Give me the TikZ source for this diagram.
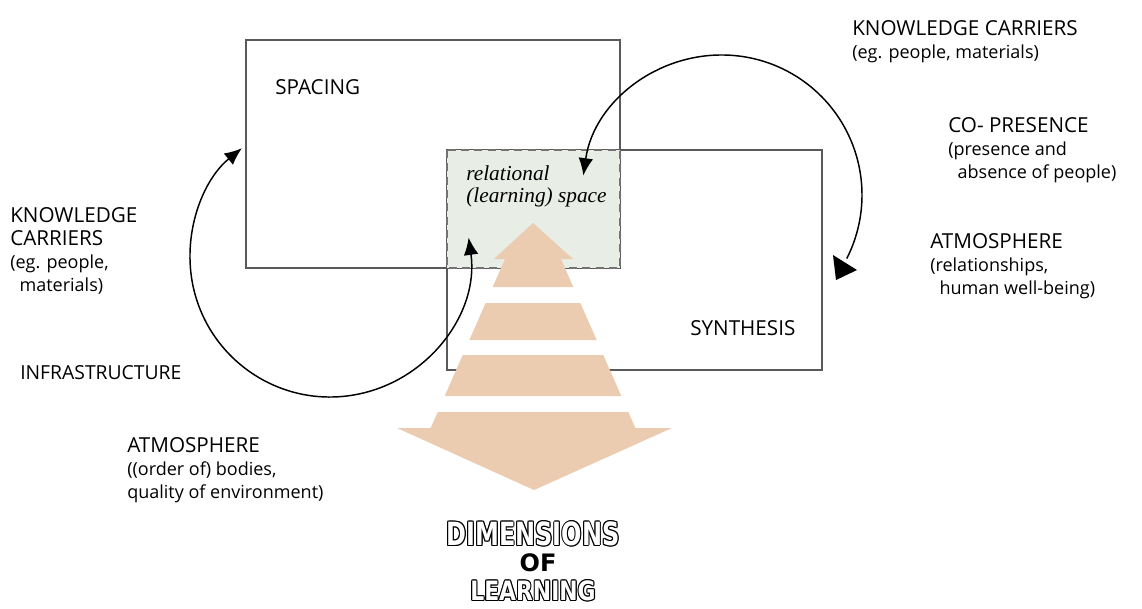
\documentclass[tikz,border=0pt]{standalone}
\usepackage{fontspec}
\setmainfont{Open Sans}
\newfontfamily\cursivefont{Liberation Serif}
\newfontfamily\bannerfont{DejaVu Sans}
\usetikzlibrary{arrows.meta}

\definecolor{peach}{HTML}{EBCCB0}
\definecolor{sage}{HTML}{E8EDE5}
\definecolor{framegray}{HTML}{5A5A5A}

\newcommand{\notesize}{\fontsize{13.5}{17.25}\selectfont}

\tikzset{
  frame/.style={draw=framegray, line width=0.8pt},
  overlap/.style={draw=framegray!85, fill=sage, line width=0.9pt, dash pattern=on 6pt off 4pt},
  cycle arrow/.style={line width=1.1pt, {Latex[length=13pt,width=11pt]}-{Latex[length=13pt,width=11pt]}},
  textblock/.style={anchor=north west, inner sep=0pt, align=left, font=\fontsize{15.5}{17.25}\selectfont},
  banner/.style={inner sep=0pt, font=\bannerfont\bfseries\fontsize{24}{24}\selectfont}
}

\begin{document}
\begin{tikzpicture}[x=0.75pt, y=-0.75pt]
      \useasboundingbox (0,0) rectangle (1142,608);
      \fill[white] (0,0) rectangle (1142,608);

      % Draw the two boxes and their overlap
      \draw[frame] (246,40) rectangle (620,268);
      \draw[frame] (447,150) rectangle (822,370);
      \draw[overlap] (447,150) rectangle (620,268);

      \node[textblock] (spacing) at (275,79) {SPACING};
      \node[textblock] (synthesis) at (690,320) {SYNTHESIS};
      \node[anchor=north west, inner sep=0pt, align=left,
            font=\cursivefont\itshape\fontsize{16}{17}\selectfont] (relational) at (466,165)
            {relational\\(learning) space};

      % Draw the big arrow, head on top and tip at the bottom
      \fill[peach] (533,223) -- (573,259) -- (561,259) -- ({561+0.44*28},287)
                   -- ({505-0.44*28},287) -- (505,259) -- (494,259) -- cycle;
      \foreach \ya/\yb in {303/340, 355/396} {
          \fill[peach] ({505-0.44*(\ya-259)},\ya) -- ({561+0.44*(\ya-259)},\ya)
                       -- ({561+0.44*(\yb-259)},\yb) -- ({505-0.44*(\yb-259)},\yb) -- cycle;
      }
      \fill[peach] ({505-0.44*153},412) -- ({561+0.44*153},412) -- ({561+0.44*169},428)
                   -- (672,428) -- (534,490) -- (397,428) -- ({505-0.44*169},428) -- cycle;

      % Circular arrows
      \coordinate (leftc) at (330,257);
      \coordinate (rightc) at (722,195);
      \draw[cycle arrow] (leftc) ++(-8:140) arc[start angle=-8, end angle=231, radius=140];
      \draw[line width=1.1pt, {Latex[length=13pt,width=11pt]}-] (rightc) ++(-172:140)
            arc[start angle=-172, end angle=27, radius=140] coordinate (rightend);
      \fill (833,255) -- (857,270) -- (836,280) -- cycle;

      % Labels on the left
      \node[textblock] (carriersL) at (10,207)
            {KNOWLEDGE\\CARRIERS\\{\notesize (eg. people,}\\{\notesize\ \ materials)}};
      \node[textblock, font=\fontsize{14.5}{17.25}\selectfont] (infra) at (20,365) {INFRASTRUCTURE};
      \node[textblock] (atmosL) at (127,437)
            {ATMOSPHERE\\{\notesize ((order of) bodies,}\\{\notesize quality of environment)}};

      % Labels on the right
      \node[textblock] (carriersR) at (852,20)
            {KNOWLEDGE CARRIERS\\{\notesize (eg. people, materials)}};
      \node[textblock] (copresence) at (948,117)
            {CO- PRESENCE\\{\notesize (presence and}\\{\notesize\ \ absence of people)}};
      \node[textblock] (atmosR) at (930,233)
            {ATMOSPHERE\\{\notesize (relationships,}\\{\notesize\ \ human well-being)}};

      % Title below the arrow, outlined words
      \foreach \word/\ypos/\sx/\fs in {DIMENSIONS/534/0.75/24, LEARNING/591/0.82/20} {
          \foreach \a in {0,45,...,315} {
              \node[banner, text=black, font=\bannerfont\bfseries\fontsize{\fs}{\fs}\selectfont]
                   (shade\word\a) at ([shift={(\a:1.1)}]533,\ypos) {\scalebox{\sx}[1]{\word}};
          }
          \node[banner, text=white, font=\bannerfont\bfseries\fontsize{\fs}{\fs}\selectfont]
               (title\word) at (533,\ypos) {\scalebox{\sx}[1]{\word}};
      }
      \node[banner, font=\bannerfont\bfseries\fontsize{18}{18}\selectfont] (titleOF) at (538,563) {OF};
\end{tikzpicture}
\end{document}
